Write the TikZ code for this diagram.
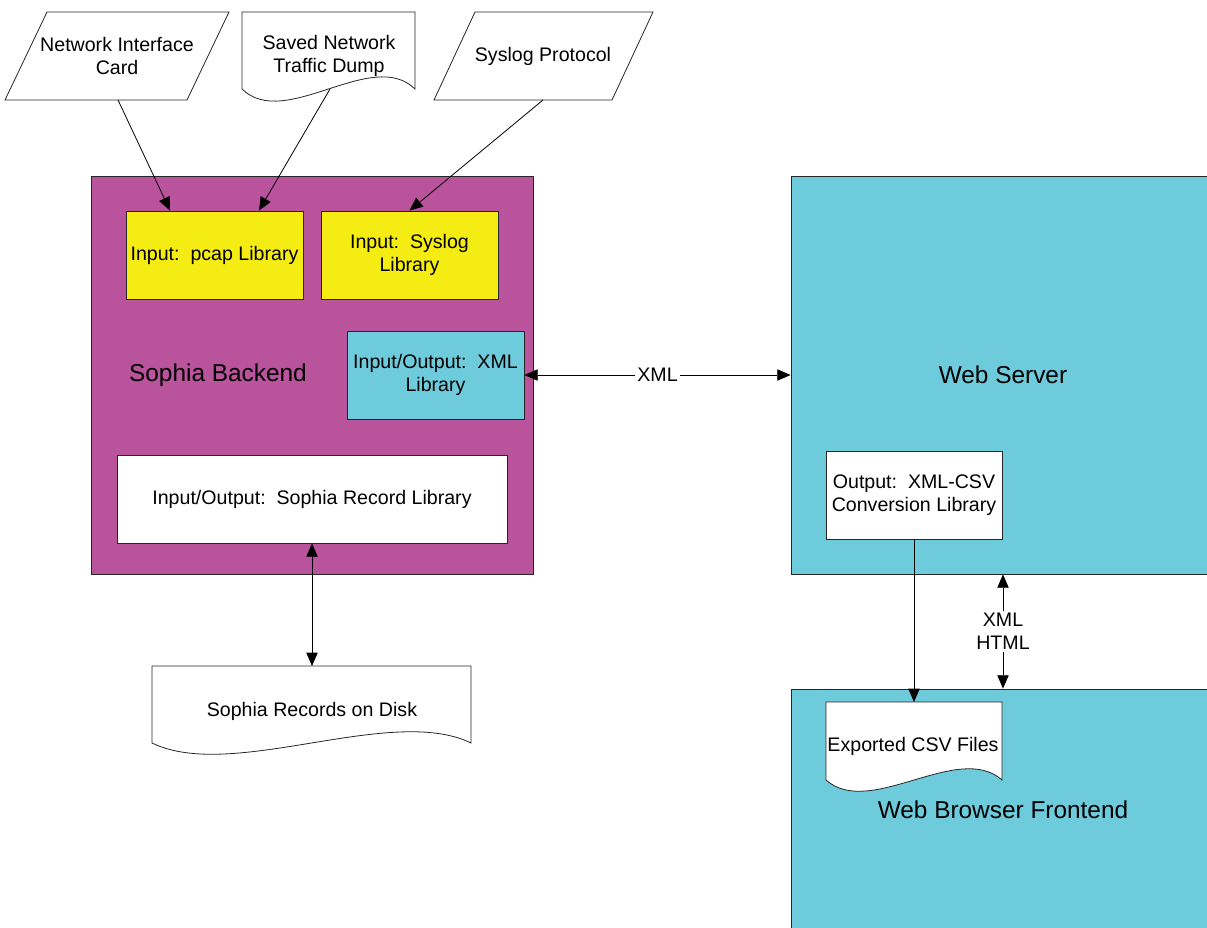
\documentclass[tikz,border=0pt]{standalone}
\usepackage{fontspec}
\setmainfont{Liberation Sans}
\usepackage{tikz}
\usetikzlibrary{arrows.meta, fit, calc}
\usepackage{xcolor}

\definecolor{backendpurple}{RGB}{185,83,155}
\definecolor{servercyan}{RGB}{110,203,219}
\definecolor{inputyellow}{RGB}{245,236,20}

\tikzset{
  blk/.style={draw=black!85, line width=0.6pt, inner sep=0pt},
  shp/.style={draw=black!85, line width=0.6pt, fill=white},
  arr/.style={line width=0.6pt, -{Triangle[length=10pt,width=8.5pt]}},
  dblarr/.style={line width=0.6pt, {Triangle[length=10pt,width=8.5pt]}-{Triangle[length=10pt,width=8.5pt]}},
  lbl/.style={fill=white, inner sep=1.5pt, align=center},
  mid/.style={label={[align=center]center:#1}},
  bigtxt/.style={font=\fontsize{18.3}{22}\selectfont},
}

\begin{document}
\begin{tikzpicture}[x=0.75pt,y=0.75pt,yscale=-1,xscale=1,font=\fontsize{14.7}{17.25}\selectfont]
\useasboundingbox (0,0) rectangle (1207,928);

%Shape: Rectangle [backend]
\node[blk, fill=backendpurple, fit={(91,176) (533,574)}] (backend) {};
%Shape: Rectangle [web server]
\node[blk, fill=servercyan, fit={(791,176) (1215,574)}] (webserver) {};
%Shape: Rectangle [frontend]
\node[blk, fill=servercyan, fit={(791,689) (1215,940)}] (frontend) {};

%Shape: Rectangle [libraries]
\node[blk, fill=inputyellow, fit={(126,211) (303,299)}, mid={Input:\ \ pcap Library}] (pcaplib) {};
\node[blk, fill=inputyellow, fit={(321,211) (498,299)}, mid={Input:\ \ Syslog\\Library}] (sysloglib) {};
\node[blk, fill=servercyan, fit={(347,331) (524,419)}, mid={Input/Output:\ \ XML\\Library}] (xmllib) {};
\node[blk, fill=white, fit={(117,455) (507,543)}, mid={Input/Output:\ \ Sophia Record Library}] (reclib) {};
\node[blk, fill=white, fit={(826,451) (1002,539)}, mid={Output:\ \ XML-CSV\\Conversion Library}] (csvlib) {};

%Shape: Parallelogram [nic]
\draw[shp] (47,12) -- (229,12) -- (187,100) -- (5,100) -- cycle;
%Shape: Document [dump]
\draw[shp] (242,12) -- (415,12) -- (415,89) .. controls (372,47) and (285,131) .. (242,89) -- cycle;
%Shape: Parallelogram [syslog]
\draw[shp] (475,12) -- (653,12) -- (612,100) -- (434,100) -- cycle;
%Shape: Document [disk]
\draw[shp] (152,666) -- (471,666) -- (471,743) .. controls (391,704) and (232,782) .. (152,743) -- cycle;
%Shape: Document [csv files]
\draw[shp] (826,702) -- (1002,702) -- (1002,780) .. controls (958,741) and (870,819) .. (826,780) -- cycle;

% Text Node
\node[align=center] (nic) at (117,56) {Network Interface\\Card};
\node[align=center] (dump) at (329,56) {Saved Network\\Traffic Dump};
\node (syslogin) at (543,56) {Syslog Protocol};
\node (disk) at (312,711) {Sophia Records on Disk};
\node (csvfiles) at (913,746) {Exported CSV Files};
\node[bigtxt] (backendlbl) at (218,375) {Sophia Backend};
\node[bigtxt] (webserverlbl) at (1003,375) {Web Server};
\node[bigtxt] (frontendlbl) at (1003,810) {Web Browser Frontend};

%Connector ends
\coordinate (nic-out) at (118,100);
\coordinate (dump-out) at (330,89);
\coordinate (syslog-out) at (543,100);
\coordinate (disk-in) at (312,666);
\coordinate (csvfiles-in) at (914,702);

%Straight Lines
\draw[arr] (nic-out) -- ($(pcaplib.north west)!0.25!(pcaplib.north east)$);
\draw[arr] (dump-out) -- ($(pcaplib.north west)!0.75!(pcaplib.north east)$);
\draw[arr] (syslog-out) -- (sysloglib.north);
\draw[dblarr] (xmllib.east) -- node[lbl] {XML} (webserver.west);
\draw[dblarr] (reclib.south) -- (disk-in);
\draw[arr] (csvlib.south) -- (csvfiles-in);
\draw[dblarr] (webserver.south) -- node[lbl] {XML\\HTML} (frontend.north);
\end{tikzpicture}
\end{document}
